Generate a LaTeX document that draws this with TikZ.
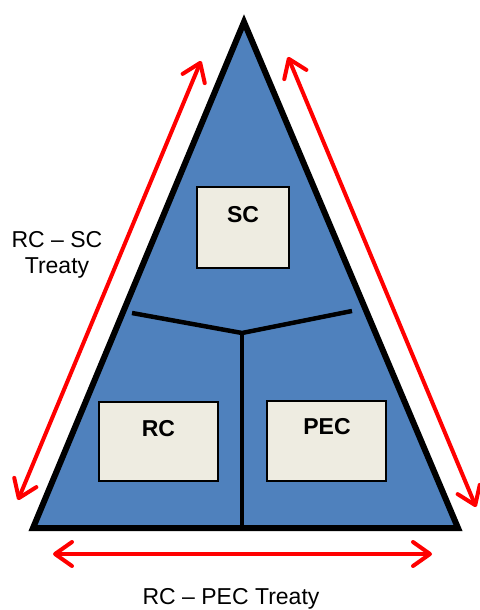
\documentclass[tikz,border=0pt]{standalone}
\usepackage{fontspec}
\setmainfont{Liberation Sans}
\usetikzlibrary{arrows.meta}
\definecolor{triblue}{HTML}{4F81BD}
\definecolor{boxfill}{HTML}{EEECE1}
\definecolor{arrowred}{HTML}{FF0000}
\begin{document}
\begin{tikzpicture}[x=1pt,y=-1pt,
  boxnode/.style={draw=black,line width=1.6pt,fill=boxfill,inner sep=0pt},
  boxtext/.style={anchor=base,font=\fontsize{23}{26}\selectfont\bfseries},
  labeltext/.style={font=\fontsize{23}{26}\selectfont,align=center},
  treaty/.style={draw=arrowred,line width=4pt,line cap=round,
    {Straight Barb[length=17pt,width=24pt,line width=4pt,round]}-{Straight Barb[length=17pt,width=24pt,line width=4pt,round]}},
  divider/.style={draw=black,line width=4.5pt}]
\useasboundingbox (0,0) rectangle (479,610);
% triangle
\coordinate (apex) at (244,22);
\coordinate (bl) at (33,528);
\coordinate (br) at (458,528);
\draw[line width=6pt,fill=triblue,line join=miter] (apex) -- (br) -- (bl) -- cycle;
% dividers
\coordinate (yl) at (132,313);
\coordinate (yr) at (352,311);
\coordinate (yj) at (242,333);
\coordinate (yb) at (242,528);
\draw[divider] (yl) -- (yj) -- (yr);
\draw[divider] (yj) -- (yb);
% boxes
\node[boxnode,minimum width=92pt,minimum height=81pt] (sc) at (243,227.5) {};
\node[boxnode,minimum width=119pt,minimum height=79pt] (rc) at (158.5,441.5) {};
\node[boxnode,minimum width=119pt,minimum height=80pt] (pec) at (326.5,441) {};
\node[boxtext] (sct) at (243,222) {SC};
\node[boxtext] (rct) at (158.5,436) {RC};
\node[boxtext] (pect) at (327,434) {PEC};
% treaty arrows
\coordinate (la1) at (201,61);
\coordinate (la2) at (18,500);
\coordinate (ra1) at (288,57);
\coordinate (ra2) at (476,507);
\coordinate (ba1) at (53,554);
\coordinate (ba2) at (432,554);
\draw[treaty] (la1) -- (la2);
\draw[treaty] (ra1) -- (ra2);
\draw[treaty] (ba1) -- (ba2);
% labels
\node[labeltext,anchor=base] (lsc) at (57,273) {RC – SC\\Treaty};
\node[labeltext,anchor=base] (lpec) at (231,604) {RC – PEC Treaty};
\end{tikzpicture}
\end{document}
